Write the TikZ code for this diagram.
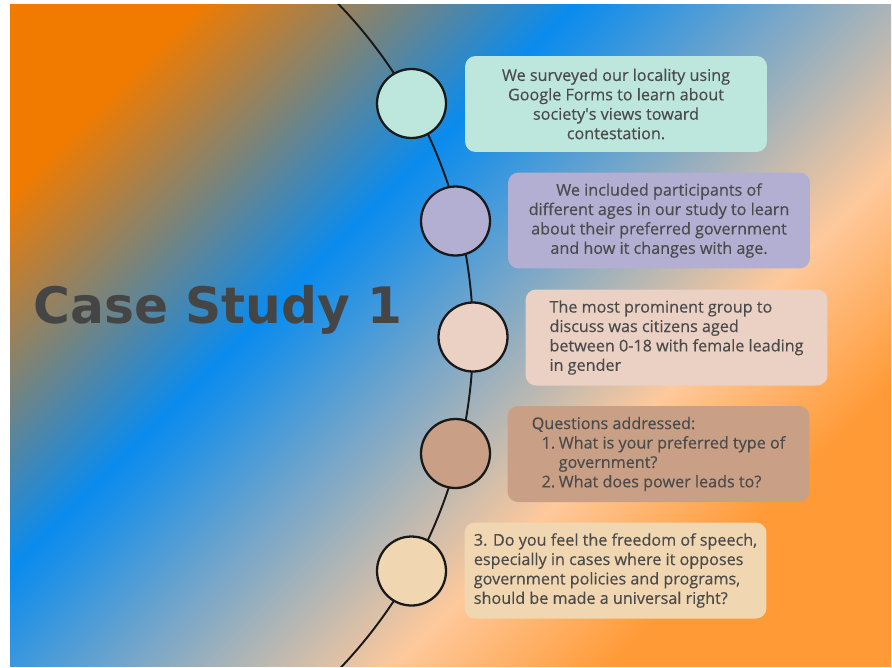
\documentclass[tikz,border=0pt]{standalone}
\usepackage{fontspec}
\setmainfont{Open Sans}[FakeBold=0.4]
\newfontfamily\headfont{DejaVu Sans}
\usetikzlibrary{positioning}

\definecolor{bgorange}{HTML}{F17B00}
\definecolor{bgblue}{HTML}{0A8BEE}
\definecolor{bgpeach}{HTML}{FEC99B}
\definecolor{bgdeep}{HTML}{FF9A36}
\definecolor{inkgrey}{HTML}{4B4B4B}
\definecolor{headgrey}{HTML}{454545}
\definecolor{mint}{HTML}{BDE6DC}
\definecolor{lavender}{HTML}{B2AFD3}
\definecolor{blush}{HTML}{EBD0C4}
\definecolor{clay}{HTML}{C9A086}
\definecolor{cream}{HTML}{F1D7B1}

\pgfdeclarehorizontalshading{bgfade}{100bp}{%
  color(0bp)=(bgorange); color(29.3bp)=(bgorange);
  color(42.7bp)=(bgblue); color(59.7bp)=(bgpeach);
  color(67.5bp)=(bgdeep); color(100bp)=(bgdeep)}

\begin{document}
\begin{tikzpicture}[
      x=0.02cm, y=-0.02cm,
      font=\fontsize{9.2}{11.05}\selectfont,
      dot/.style   = {circle, draw=black!90, line width=1.3pt,
                      minimum size=1.38cm, inner sep=0pt},
      card/.style  = {rounded corners=6pt, minimum width=6.04cm,
                      minimum height=1.92cm, inner sep=0pt, text=inkgrey},
      track/.style = {line width=1.1pt, draw=black!90},
      head/.style  = {font=\headfont\bfseries\fontsize{28.6}{30}\selectfont,
                      text=headgrey, inner sep=0pt},
    ]
    \useasboundingbox (0,0) rectangle (892,667);

    \begin{scope}
      \clip (10,4) rectangle (891,666);
      \shade[shading=bgfade, shading angle=-45] (-49.5,-165) rectangle (950.5,835);
      \draw[track] (-6.3,337) ++(-46:479.3) coordinate (arctop)
        arc[start angle=-46, end angle=46, radius=479.3] coordinate (arcbot);
    \end{scope}

    \node[head, anchor=base west] (title) at (33,323) {Case Study 1};

    \node[dot, fill=mint]     (c1) at (411.5,103.5) {};
    \node[dot, fill=lavender] (c2) at (455.5,221) {};
    \node[dot, fill=blush]    (c3) at (473,337) {};
    \node[dot, fill=clay]     (c4) at (455.5,453.5) {};
    \node[dot, fill=cream]    (c5) at (411.5,571) {};

    \node[card, fill=mint, align=center] (b1) at (616,104)
      {We surveyed our locality using\\Google Forms to learn about\\
       society\textquotesingle s views toward\\contestation.};
    \node[card, fill=lavender, align=center] (b2) at (659,220.5)
      {We included participants of\\different ages in our study to learn\\
       about their preferred government\\and how it changes with age.};
    \node[card, fill=blush, align=left] (b3) at (676.5,337.5)
      {The most prominent group to\\discuss was citizens aged\\
       between 0-18 with female leading\\in gender};
    \node[card, fill=clay, align=left] (b4) at (658.5,454)
      {Questions addressed:\\
       \makebox[1.45em][r]{1.}\hspace{0.22em}What is your preferred type of\\
       \hspace*{1.67em}government?\\
       \makebox[1.45em][r]{2.}\hspace{0.22em}What does power leads to?};
    \node[card, fill=cream, align=left] (b5) at (615.5,570.5)
      {3. Do you feel the freedom of speech,\\
       especially in cases where it opposes\\
       government policies and programs,\\
       should be made a universal right?};
  \end{tikzpicture}
\end{document}
